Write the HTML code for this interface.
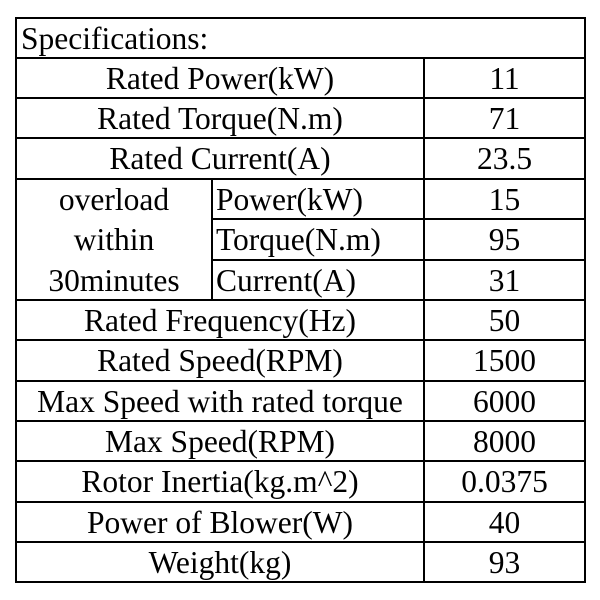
<!DOCTYPE html>
<html><head><style>
body{margin:0;background:#fff;width:600px;height:600px;overflow:hidden;position:relative;font-family:"Liberation Serif",serif;color:#000}
.h{position:absolute;left:15px;width:571px;height:2px;background:#000}
.v{position:absolute;width:2px;background:#000}
.t{position:absolute;font-size:31.5px;line-height:40px;text-align:center;white-space:nowrap}
</style></head><body>
<div class="h" style="top:17px"></div>
<div class="h" style="top:57px"></div>
<div class="h" style="top:97px"></div>
<div class="h" style="top:137px"></div>
<div class="h" style="top:178px"></div>
<div class="h" style="top:218px;left:212px;width:374px"></div>
<div class="h" style="top:259px;left:212px;width:374px"></div>
<div class="h" style="top:299px"></div>
<div class="h" style="top:339px"></div>
<div class="h" style="top:380px"></div>
<div class="h" style="top:420px"></div>
<div class="h" style="top:460px"></div>
<div class="h" style="top:501px"></div>
<div class="h" style="top:541px"></div>
<div class="h" style="top:581px"></div>
<div class="v" style="left:15px;top:17px;height:566px"></div>
<div class="v" style="left:584px;top:17px;height:566px"></div>
<div class="v" style="left:423px;top:57px;height:526px"></div>
<div class="v" style="left:211px;top:178px;height:122px"></div>
<div class="t" style="left:21px;top:19px;text-align:left">Specifications:</div>
<div id="rows"></div>
<script>
var L=[["Rated Power(kW)","11",57],["Rated Torque(N.m)","71",97],["Rated Current(A)","23.5",137],
["Rated Frequency(Hz)","50",299],["Rated Speed(RPM)","1500",339],["Max Speed with rated torque","6000",380],
["Max Speed(RPM)","8000",420],["Rotor Inertia(kg.m^2)","0.0375",460],["Power of Blower(W)","40",501],["Weight(kg)","93",541]];
var h="";
L.forEach(function(r){h+='<div class="t" style="left:17px;width:406px;top:'+(r[2]+2)+'px">'+r[0]+'</div><div class="t" style="left:425px;width:159px;top:'+(r[2]+2)+'px">'+r[1]+'</div>';});
[["overload","Power(kW)","15",178],["within","Torque(N.m)","95",218],["30minutes","Current(A)","31",259]].forEach(function(r){
h+='<div class="t" style="left:17px;width:194px;top:'+(r[3]+2)+'px">'+r[0]+'</div><div class="t" style="left:216px;top:'+(r[3]+2)+'px;text-align:left">'+r[1]+'</div><div class="t" style="left:425px;width:159px;top:'+(r[3]+2)+'px">'+r[2]+'</div>';});
document.getElementById("rows").innerHTML=h;
</script>
</body></html>
